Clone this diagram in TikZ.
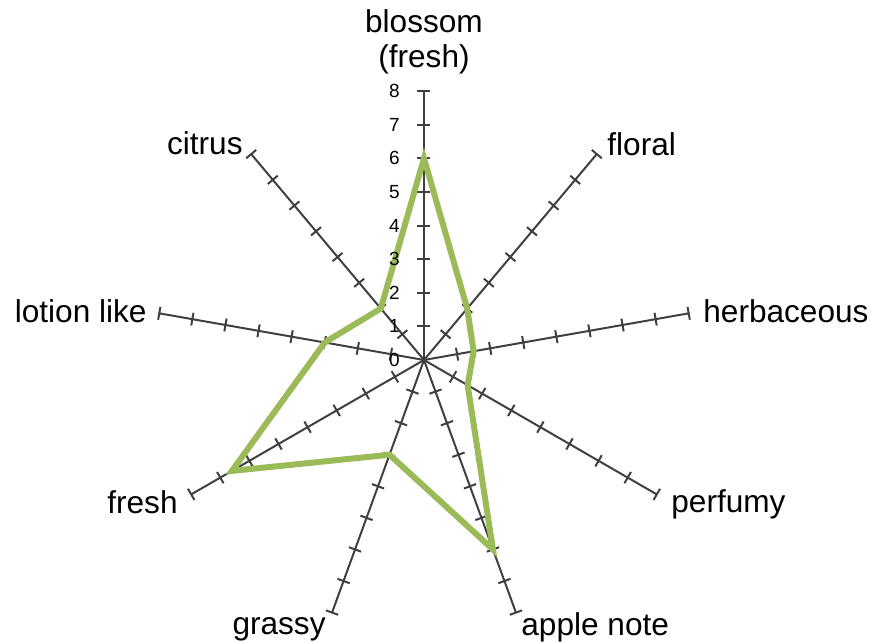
\documentclass[tikz,border=0pt]{standalone}
\usepackage{fontspec}
\setmainfont{Liberation Sans}
\usepackage{tikz}
\definecolor{axisgray}{HTML}{404040}
\definecolor{seriesgreen}{HTML}{9BBB59}

\begin{document}
\begin{tikzpicture}[x=0.5pt,y=0.5pt,
    axisline/.style={draw=axisgray, line width=1pt},
    series/.style={draw=seriesgreen, line width=3pt, line join=miter},
    catlabel/.style={font=\fontsize{15.8}{17.5}\selectfont, inner sep=0pt},
    ticklabel/.style={font=\fontsize{9.5}{11}\selectfont, inner sep=0pt, anchor=east}]
    \useasboundingbox (-424,-283) rectangle (451,360);
    \def\u{33.6}

    \foreach \a in {90,50,...,-230}
        \draw[axisline, rotate=\a] (0,0) -- (8*\u,0)
            \foreach \k in {1,...,8} {(\k*\u,-6.5) -- (\k*\u,6.5)};

    \coordinate (blossom) at (90:6*\u);
    \coordinate (floral) at (50:2*\u);
    \coordinate (herb) at (10:1.5*\u);
    \coordinate (perf) at (-30:1.5*\u);
    \coordinate (apple) at (-70:6*\u);
    \coordinate (grassy) at (-110:3*\u);
    \coordinate (fresh) at (-150:6.6*\u);
    \coordinate (lotion) at (170:3*\u);
    \coordinate (citrus) at (130:2*\u);
    \draw[series] (blossom) -- (floral) -- (herb) -- (perf) -- (apple) -- (grassy)
        -- (fresh) -- (lotion) -- (citrus) -- cycle;

    \foreach \k in {0,...,8}
        \node[ticklabel] (t\k) at (-24,\k*\u) {\k};

    \node[catlabel, anchor=south, align=center] (lblossom) at (0,286) {blossom\\(fresh)};
    \node[catlabel, anchor=base west] (lfloral) at (183,204) {floral};
    \node[catlabel, anchor=base west] (lherb) at (279,37) {herbaceous};
    \node[catlabel, anchor=base west] (lperf) at (247,-153) {perfumy};
    \node[catlabel, anchor=base west] (lapple) at (97,-276) {apple note};
    \node[catlabel, anchor=base east] (lgrassy) at (-98,-275) {grassy};
    \node[catlabel, anchor=base east] (lfresh) at (-246,-154) {fresh};
    \node[catlabel, anchor=base east] (llotion) at (-277,37) {lotion like};
    \node[catlabel, anchor=base east] (lcitrus) at (-181,205) {citrus};
\end{tikzpicture}
\end{document}
